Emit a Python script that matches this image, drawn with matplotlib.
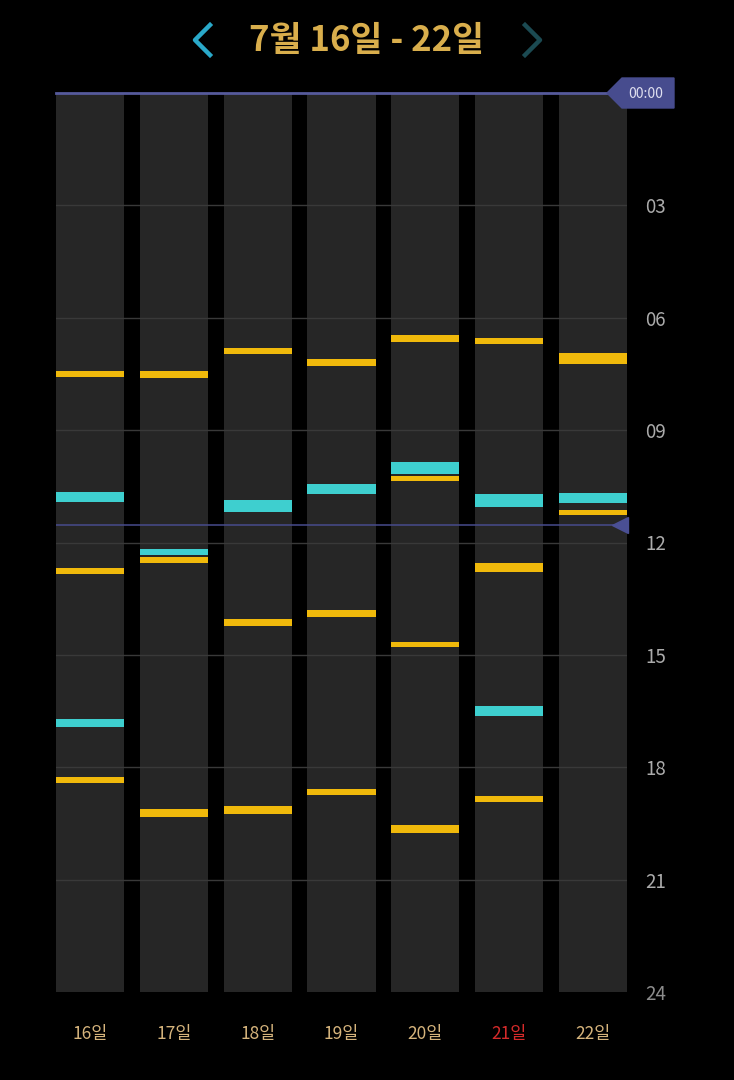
import matplotlib.pyplot as plt
from matplotlib.lines import Line2D
from matplotlib.patches import Polygon
from matplotlib.transforms import blended_transform_factory

plt.rcParams["font.family"] = ["Noto Sans CJK KR", "DejaVu Sans"]

W, H = 734, 1080

title = "7월 16일 - 22일"
days = ["16일", "17일", "18일", "19일", "20일", "21일", "22일"]
weekend_day = "21일"
hour_ticks = [3, 6, 9, 12, 15, 18, 21, 24]
now_hour = 11.53

# yellow events: day index, start hour, end hour
yellow_day = [0, 0, 0,
              1, 1, 1,
              2, 2, 2,
              3, 3, 3,
              4, 4, 4, 4,
              5, 5, 5,
              6, 6]
yellow_start = [7.42, 12.68, 18.26,
                7.42, 12.39, 19.11,
                6.81, 14.04, 19.03,
                7.10, 13.80, 18.58,
                6.46, 10.22, 14.66, 19.54,
                6.54, 12.55, 18.77,
                6.94, 11.13]
yellow_end = [7.58, 12.84, 18.42,
              7.61, 12.55, 19.33,
              6.97, 14.23, 19.25,
              7.29, 13.99, 18.74,
              6.65, 10.36, 14.79, 19.75,
              6.70, 12.79, 18.93,
              7.23, 11.27]

# cyan events
cyan_day = [0, 0, 1, 2, 3, 4, 5, 5, 6]
cyan_start = [10.65, 16.71, 12.17, 10.86, 10.44, 9.85, 10.70, 16.36, 10.68]
cyan_end = [10.92, 16.92, 12.33, 11.19, 10.70, 10.17, 11.05, 16.63, 10.94]


def fx(px):
    return px / W


def fy(py):
    return 1 - py / H


def main():
    fig = plt.figure(figsize=(W / 100, H / 100), dpi=100, facecolor="black")
    ax = fig.add_axes([fx(56), fy(992), fx(627) - fx(56), fy(93) - fy(992)])
    ax.set_facecolor("black")
    for s in ax.spines.values():
        s.set_visible(False)

    w = 0.815
    xs = list(range(len(days)))
    ax.bar(xs, [24] * len(days), bottom=0, width=w, color="#262626", zorder=1)
    for h in hour_ticks[:-1]:
        ax.axhline(h, color="#393939", lw=1, zorder=2)

    ax.bar(cyan_day, [e - s for s, e in zip(cyan_start, cyan_end)],
           bottom=cyan_start, width=w, color="#3ecfcf", zorder=3)
    ax.bar(yellow_day, [e - s for s, e in zip(yellow_start, yellow_end)],
           bottom=yellow_start, width=w, color="#f0b90b", zorder=3)

    ax.set_xlim(-w / 2, len(days) - 1 + w / 2)
    ax.set_ylim(24, 0)

    # midnight line and current time line
    ax.axhline(0, color="#565a9c", lw=2.0, zorder=4, clip_on=False)
    ax.axhline(now_hour, color="#474b8c", lw=1.1, zorder=4)
    tr = blended_transform_factory(ax.transAxes, ax.transData)
    ax.plot([0.988], [now_hour], marker="<", ms=12, color="#4a4f94",
            transform=tr, zorder=5, clip_on=False)

    # axis labels
    ax.yaxis.tick_right()
    ax.set_yticks(hour_ticks)
    ax.set_yticklabels([f"{h:02d}" for h in hour_ticks])
    ax.tick_params(axis="y", length=0, pad=13, labelsize=13.5, labelcolor="#ababab")
    ax.get_yticklabels()[-1].set_color("#8c8c8c")
    ax.set_xticks(xs)
    ax.set_xticklabels(days)
    ax.tick_params(axis="x", length=0, pad=24, labelsize=12.5, labelcolor="#d6b47c")
    for lbl in ax.get_xticklabels():
        if lbl.get_text() == weekend_day:
            lbl.set_color("#d52a2a")

    # 00:00 badge
    badge = [(607, 93), (622, 78), (674, 78), (674, 108), (622, 108)]
    fig.add_artist(Polygon([(fx(a), fy(b)) for a, b in badge], closed=True,
                           color="#474c8e", transform=fig.transFigure))
    fig.text(fx(646), fy(94), "00:00", ha="center", va="center",
             fontsize=10, color="#e0e0f0")

    # header
    fig.text(fx(367), fy(40), title, ha="center", va="center",
             fontsize=25, color="#d9ae4c", fontweight="bold")
    fig.add_artist(Line2D([fx(210), fx(195), fx(210)], [fy(25), fy(40), fy(55)],
                          color="#2aa9c9", lw=3.2, transform=fig.transFigure))
    fig.add_artist(Line2D([fx(525), fx(540), fx(525)], [fy(25), fy(40), fy(55)],
                          color="#1b4a52", lw=3.2, transform=fig.transFigure))

    fig.savefig("out.png", dpi=100, facecolor="black")


if __name__ == "__main__":
    main()
